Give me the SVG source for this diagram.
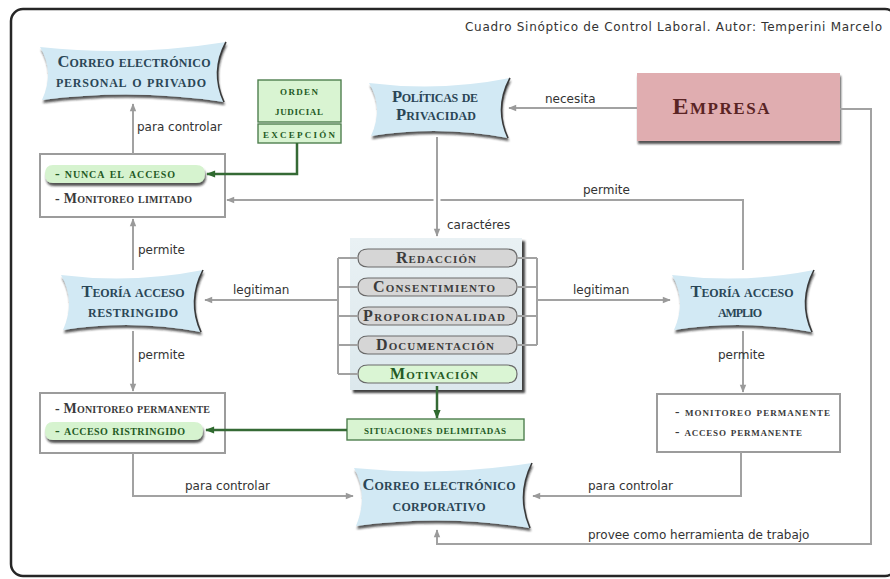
<svg xmlns="http://www.w3.org/2000/svg" width="890" height="579" viewBox="0 0 890 579">
  <defs>
    <style>
      .frame { fill: #ffffff; stroke: #262626; stroke-width: 2.5; }
      .banner { fill: #d2e9f4; filter: url(#sh); }
      .curl { fill: none; stroke: #3a3a3a; stroke-width: 1.6; }
      .box { fill: #ffffff; stroke: #9c9c9c; stroke-width: 2; }
      .gbox { fill: #d9f4d2; stroke: #4f7f4f; stroke-width: 1.4; }
      .gpill { fill: #d6f3cf; filter: url(#sh); }
      .pill { fill: #d6d6d6; stroke: #6a6a6a; stroke-width: 1.2; }
      .pill.green { fill: #daf5d4; }
      .block { fill: url(#blockfill); filter: url(#sh2); }
      .empresa { fill: #e0adb0; filter: url(#sh); }
      .sc { font-family: "Liberation Serif", "DejaVu Serif", serif; font-variant: small-caps; font-weight: bold; }
      .bt { fill: #2a4656; font-size: 16.5px; }
      .pt { fill: #3c3c3c; font-size: 16px; }
      .gt { fill: #245a24; }
      .dt { fill: #3a3a3a; }
      .lbl { font-family: "DejaVu Sans", Verdana, sans-serif; font-size: 12px; fill: #333333; }
      .conn { fill: none; stroke: #a2a2a2; stroke-width: 2; }
      .halo { fill: none; stroke: #ffffff; stroke-width: 7; }
      .gconn { fill: none; stroke: #356a35; stroke-width: 2.5; }
    </style>
    <linearGradient id="blockfill" x1="0" y1="0" x2="0" y2="1">
      <stop offset="0" stop-color="#e9f1f4"/>
      <stop offset="1" stop-color="#dce8ed"/>
    </linearGradient>
    <filter id="sh" x="-10%" y="-15%" width="125%" height="145%">
      <feDropShadow dx="1" dy="3" stdDeviation="1.2" flood-color="#1e1e1e" flood-opacity="0.75"/>
    </filter>
    <filter id="sh2" x="-5%" y="-5%" width="115%" height="115%">
      <feDropShadow dx="3" dy="3" stdDeviation="0.8" flood-color="#222222" flood-opacity="0.85"/>
    </filter>
    <marker id="ag" viewBox="0 0 10 10" refX="9" refY="5" markerWidth="9" markerHeight="8" markerUnits="userSpaceOnUse" orient="auto">
      <path d="M0,1 L10,5 L0,9 Z" fill="#9a9a9a"/>
    </marker>
    <marker id="agr" viewBox="0 0 10 10" refX="9" refY="5" markerWidth="10" markerHeight="9" markerUnits="userSpaceOnUse" orient="auto">
      <path d="M0,1 L10,5 L0,9 Z" fill="#2f6a2f"/>
    </marker>
  </defs>

  <!-- outer frame -->
  <rect class="frame" x="11" y="9" width="886" height="567" rx="12"/>
  <text class="lbl" x="465" y="31" font-size="11.5" textLength="417">Cuadro Sinóptico de Control Laboral. Autor: Temperini Marcelo</text>

  <!-- Correo electrónico personal o privado -->
  <g id="correo-personal">
    <path class="banner" d="M40,47 Q133,57 226,42 Q210,72 224,102 Q133,88 42,100 Q55,72 40,47 Z"/>
    <path class="curl" d="M226,42 Q210,72 224,102"/>
    <text class="sc bt" x="134" y="67" text-anchor="middle" textLength="153">Correo electrónico</text>
    <text class="sc bt" x="131" y="87" text-anchor="middle" textLength="150">personal o privado</text>
  </g>

  <!-- Orden judicial / excepción -->
  <g id="orden-judicial">
    <rect class="gbox" x="258" y="80" width="83" height="42"/>
    <rect class="gbox" x="258" y="124" width="83" height="19"/>
    <text class="sc gt" x="299" y="95" font-size="13.5" text-anchor="middle" textLength="38">orden</text>
    <text class="sc gt" x="299" y="115" font-size="13.5" text-anchor="middle" textLength="48">judicial</text>
    <text class="sc gt" x="299" y="138" font-size="13.5" text-anchor="middle" textLength="72">excepción</text>
  </g>

  <!-- Políticas de privacidad -->
  <g id="politicas">
    <path class="banner" d="M369,83 Q440,92 510,78 Q494,108 508,138 Q440,125 371,136 Q384,108 369,83 Z"/>
    <path class="curl" d="M510,78 Q494,108 508,138"/>
    <text class="sc bt" x="435" y="102" text-anchor="middle" textLength="86">Políticas de</text>
    <text class="sc bt" x="436" y="120" text-anchor="middle" textLength="80">Privacidad</text>
  </g>

  <!-- Empresa -->
  <g id="empresa">
    <rect class="empresa" x="637" y="73" width="203" height="68"/>
    <text class="sc" x="721" y="114" font-size="24" fill="#5a2424" text-anchor="middle" textLength="97">Empresa</text>
  </g>

  <!-- Nunca el acceso / monitoreo limitado -->
  <g id="monitoreo-limitado">
    <rect class="box" x="40" y="154" width="185" height="63"/>
    <path class="gpill" d="M53,165 L196,165 Q205,165 205,174 Q205,183 196,183 L53,183 Q45,183 45,174 Q45,165 53,165 Z"/>
    <text class="sc gt" x="55" y="178" font-size="14" textLength="120">- nunca el acceso</text>
    <text class="sc dt" x="55" y="203" font-size="14" textLength="137">- Monitoreo limitado</text>
  </g>

  <!-- Teoría acceso restringido -->
  <g id="teoria-restringido">
    <path class="banner" d="M61,275 Q132,284 203,270 Q187,301 201,332 Q132,319 63,330 Q76,301 61,275 Z"/>
    <path class="curl" d="M203,270 Q187,301 201,332"/>
    <text class="sc bt" x="133" y="297" text-anchor="middle" textLength="103">Teoría acceso</text>
    <text class="sc bt" x="133" y="317" text-anchor="middle" textLength="90">restringido</text>
  </g>

  <!-- Caracteres -->
  <g id="caracteres">
    <rect class="block" x="350" y="238" width="172" height="152"/>
    <path class="pill" d="M368,249 L507,249 Q517,249 517,258 Q517,267 507,267 L368,267 Q358,267 358,258 Q358,249 368,249 Z"/>
    <path class="pill" d="M368,278 L507,278 Q517,278 517,287 Q517,296 507,296 L368,296 Q358,296 358,287 Q358,278 368,278 Z"/>
    <path class="pill" d="M368,307 L507,307 Q517,307 517,316 Q517,325 507,325 L368,325 Q358,325 358,316 Q358,307 368,307 Z"/>
    <path class="pill" d="M368,336 L507,336 Q517,336 517,345 Q517,354 507,354 L368,354 Q358,354 358,345 Q358,336 368,336 Z"/>
    <path class="pill green" d="M368,365 L507,365 Q517,365 517,374 Q517,383 507,383 L368,383 Q358,383 358,374 Q358,365 368,365 Z"/>
    <text class="sc pt" x="436" y="263" text-anchor="middle" textLength="80">Redacción</text>
    <text class="sc pt" x="434" y="292" text-anchor="middle" textLength="122">Consentimiento</text>
    <text class="sc pt" x="434" y="321" text-anchor="middle" textLength="142">Proporcionalidad</text>
    <text class="sc pt" x="435" y="350" text-anchor="middle" textLength="118">Documentación</text>
    <text class="sc pt gt" x="434" y="379" text-anchor="middle" textLength="88">Motivación</text>
  </g>

  <!-- Teoría acceso amplio -->
  <g id="teoria-amplio">
    <path class="banner" d="M672,275 Q743,284 814,270 Q798,301 812,332 Q743,319 674,330 Q687,301 672,275 Z"/>
    <path class="curl" d="M814,270 Q798,301 812,332"/>
    <text class="sc bt" x="742" y="297" text-anchor="middle" textLength="103">Teoría acceso</text>
    <text class="sc bt" x="740" y="317" text-anchor="middle" textLength="44">amplio</text>
  </g>

  <!-- Monitoreo permanente / acceso restringido -->
  <g id="monitoreo-restringido">
    <rect class="box" x="40" y="393" width="185" height="60"/>
    <text class="sc dt" x="55" y="413" font-size="14" textLength="155">- Monitoreo permanente</text>
    <path class="gpill" d="M53,422 L194,422 Q203,422 203,431 Q203,440 194,440 L53,440 Q45,440 45,431 Q45,422 53,422 Z"/>
    <text class="sc gt" x="55" y="435" font-size="14" textLength="130">- acceso ristringido</text>
  </g>

  <!-- Situaciones delimitadas -->
  <g id="situaciones">
    <rect class="gbox" x="347" y="419" width="177" height="21"/>
    <text class="sc gt" x="435" y="434" font-size="13" text-anchor="middle" textLength="142">situaciones delimitadas</text>
  </g>

  <!-- Monitoreo permanente / acceso permanente -->
  <g id="monitoreo-amplio">
    <rect class="box" x="657" y="394" width="183" height="58"/>
    <text class="sc dt" x="675" y="416" font-size="13.5" textLength="155">- monitoreo permanente</text>
    <text class="sc dt" x="675" y="436" font-size="13.5" textLength="127">- acceso permanente</text>
  </g>

  <!-- Correo electrónico corporativo -->
  <g id="correo-corporativo">
    <path class="banner" d="M354,468 Q443,477 532,463 Q516,495 530,528 Q443,514 356,526 Q369,495 354,468 Z"/>
    <path class="curl" d="M532,463 Q516,495 530,528"/>
    <text class="sc bt" x="439" y="490" text-anchor="middle" textLength="153">Correo electrónico</text>
    <text class="sc bt" x="439" y="511" text-anchor="middle" textLength="93">corporativo</text>
  </g>

  <!-- connectors, drawn over the nodes so the green links reach into the boxes -->
  <g id="connectors">
    <path class="conn" d="M133,154 L133,104" marker-end="url(#ag)"/>
    <path class="conn" d="M637,108 L509,108" marker-end="url(#ag)"/>
    <path class="conn" d="M743,270 L743,200 L227,200" marker-end="url(#ag)"/>
    <path class="halo" d="M437,190 L437,210"/>
    <path class="conn" d="M437,137 L437,236" marker-end="url(#ag)"/>
    <path class="conn" d="M133,270 L133,219" marker-end="url(#ag)"/>
    <path class="conn" d="M133,331 L133,391" marker-end="url(#ag)"/>
    <path class="conn" d="M338,258 L338,374 M338,258 L358,258 M338,287 L358,287 M338,316 L358,316 M338,345 L358,345 M338,374 L358,374"/>
    <path class="conn" d="M537,258 L537,345 M517,258 L537,258 M517,287 L537,287 M517,316 L537,316 M517,345 L537,345"/>
    <path class="conn" d="M338,300 L205,300" marker-end="url(#ag)"/>
    <path class="conn" d="M537,300 L670,300" marker-end="url(#ag)"/>
    <path class="conn" d="M743,331 L743,392" marker-end="url(#ag)"/>
    <path class="conn" d="M133,453 L133,496 L353,496" marker-end="url(#ag)"/>
    <path class="conn" d="M741,452 L741,496 L533,496" marker-end="url(#ag)"/>
    <path class="conn" d="M840,109 L871,109 L871,544 L437,544 L437,530" marker-end="url(#ag)"/>
    <path class="gconn" d="M297,143 L297,174 L207,174" marker-end="url(#agr)"/>
    <path class="gconn" d="M437,386 L437,418" marker-end="url(#agr)"/>
    <path class="gconn" d="M347,430 L206,430" marker-end="url(#agr)"/>

    <text class="lbl" x="137" y="131">para controlar</text>
    <text class="lbl" x="545" y="103">necesita</text>
    <text class="lbl" x="583" y="194">permite</text>
    <text class="lbl" x="447" y="229">caractéres</text>
    <text class="lbl" x="138" y="254">permite</text>
    <text class="lbl" x="233" y="294">legitiman</text>
    <text class="lbl" x="573" y="294">legitiman</text>
    <text class="lbl" x="138" y="359">permite</text>
    <text class="lbl" x="718" y="359">permite</text>
    <text class="lbl" x="185" y="490">para controlar</text>
    <text class="lbl" x="588" y="490">para controlar</text>
    <text class="lbl" x="588" y="539">provee como herramienta de trabajo</text>
  </g>
</svg>
